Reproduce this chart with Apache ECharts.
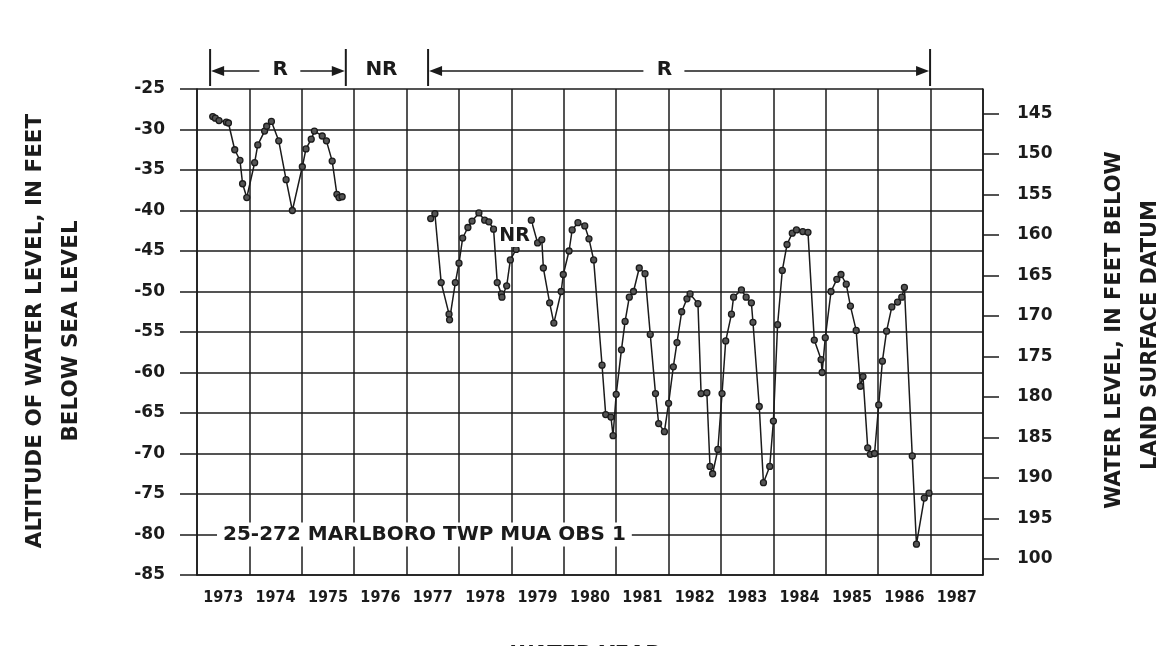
<!DOCTYPE html>
<html>
<head>
<meta charset="utf-8">
<script src="https://cdn.jsdelivr.net/npm/echarts@6/dist/echarts.min.js"></script>
<style>
html,body{margin:0;padding:0;background:#ffffff;}
#c{width:1156px;height:646px;}
</style>
</head>
<body>
<div id="c"></div>
<script>
// ---------- data (water year as decimal, altitude in feet) ----------
const yearLabels = ['1973','1974','1975','1976','1977','1978','1979','1980','1981','1982','1983','1984','1985','1986','1987'];
const altTicks = [-85,-80,-75,-70,-65,-60,-55,-50,-45,-40,-35,-30,-25];
const depthTicks = [145,150,155,160,165,170,175,180,185,190,195,200];
const depthTickLabels = ['145','150','155','160','165','170','175','180','185','190','195','100'];
const landSurfaceDatum = 117; // depth = datum - altitude

const years1 = [1973.30,1973.35,1973.42,1973.56,1973.60,1973.72,1973.82,1973.87,1973.95,1974.10,1974.16,1974.29,1974.33,1974.42,1974.56,1974.70,1974.82,1975.01,1975.08,1975.18,1975.24,1975.39,1975.47,1975.58,1975.67,1975.71,1975.77];
const levels1 = [-28.4,-28.6,-28.9,-29.1,-29.2,-32.5,-33.8,-36.7,-38.4,-34.1,-31.9,-30.2,-29.6,-29.0,-31.4,-36.2,-40.0,-34.6,-32.4,-31.2,-30.2,-30.8,-31.4,-33.9,-38.0,-38.4,-38.3];

const years2 = [1977.46,1977.54,1977.66,1977.81,1977.82,1977.93,1978.00,1978.07,1978.17,1978.25,1978.38,1978.49,1978.57,1978.66,1978.73,1978.81,1978.82,1978.91,1978.98,1979.09];
const levels2 = [-41.0,-40.4,-48.9,-52.8,-53.5,-48.9,-46.5,-43.4,-42.1,-41.3,-40.3,-41.2,-41.4,-42.3,-48.9,-50.3,-50.7,-49.3,-46.1,-44.8];

const years3 = [1979.38,1979.50,1979.58,1979.61,1979.73,1979.81,1979.95,1979.99,1980.10,1980.16,1980.27,1980.40,1980.48,1980.57,1980.73,1980.80,1980.90,1980.94,1981.00,1981.10,1981.17,1981.25,1981.33,1981.44,1981.55,1981.65,1981.75,1981.81,1981.92,1982.00,1982.09,1982.16,1982.25,1982.35,1982.41,1982.56,1982.62,1982.73,1982.79,1982.84,1982.94,1983.02,1983.09,1983.20,1983.24,1983.39,1983.48,1983.58,1983.61,1983.73,1983.81,1983.93,1984.00,1984.08,1984.17,1984.26,1984.36,1984.44,1984.56,1984.66,1984.78,1984.91,1984.93,1984.99,1985.10,1985.21,1985.29,1985.39,1985.47,1985.58,1985.66,1985.71,1985.80,1985.85,1985.93,1986.01,1986.08,1986.16,1986.26,1986.37,1986.45,1986.50,1986.65,1986.73,1986.88,1986.97];
const levels3 = [-41.2,-44.0,-43.6,-47.1,-51.4,-53.9,-50.0,-47.9,-45.0,-42.4,-41.5,-41.9,-43.5,-46.1,-59.1,-65.2,-65.5,-67.8,-62.7,-57.2,-53.7,-50.7,-50.0,-47.1,-47.8,-55.3,-62.6,-66.3,-67.3,-63.8,-59.3,-56.3,-52.5,-50.9,-50.3,-51.5,-62.6,-62.5,-71.6,-72.5,-69.5,-62.6,-56.1,-52.8,-50.7,-49.8,-50.7,-51.4,-53.8,-64.2,-73.6,-71.6,-66.0,-54.1,-47.4,-44.2,-42.8,-42.4,-42.6,-42.7,-56.0,-58.4,-60.0,-55.7,-50.0,-48.5,-47.9,-49.1,-51.8,-54.8,-61.7,-60.5,-69.3,-70.1,-70.0,-64.0,-58.6,-54.9,-51.9,-51.3,-50.7,-49.5,-70.3,-81.2,-75.5,-74.9];

// record periods (R = recorder, NR = no record)
const recordStarts = [1973.25, 1977.41];
const recordEnds   = [1975.84, 1986.99];
const recordLabelAt = [1974.59, 1981.92];
const recordLabels = ['R', 'R'];
const noRecordLabelAt = [1976.52];
const noRecordInPlot = [1979.06, -43.1];
const stationName = '25-272 MARLBORO TWP MUA OBS 1';
const stationAt = [1977.34, -80];

// ---------- chart ----------
const ink = '#1b1b1b';
const boldFont = '"DejaVu Sans", "Liberation Sans", Arial, sans-serif';
const yearLabelPos = yearLabels.map(y => Number(y) + 0.5);

function pairs(xs, ys){ return xs.map((x,i)=>[x, ys[i]]); }

function lineSeries(xs, ys){
  return {
    type:'line',
    data: pairs(xs, ys),
    xAxisIndex:0, yAxisIndex:0,
    symbol:'circle', symbolSize:6,
    showSymbol:true,
    lineStyle:{color:ink, width:1.5},
    itemStyle:{color:'#555', borderColor:ink, borderWidth:1.3},
    emphasis:{disabled:true},
    animation:false,
    z:5
  };
}

const chart = echarts.init(document.getElementById('c'), null, {renderer:'canvas'});

const staticGraphics = [
  {type:'text', x:35, y:331, rotation:Math.PI/2,
   style:{text:'ALTITUDE OF WATER LEVEL, IN FEET', font:'bold 21.5px ' + boldFont, fill:ink, align:'center', verticalAlign:'middle'}},
  {type:'text', x:71, y:331, rotation:Math.PI/2,
   style:{text:'BELOW SEA LEVEL', font:'bold 21.5px ' + boldFont, fill:ink, align:'center', verticalAlign:'middle'}},
  {type:'text', x:1115, y:330, rotation:Math.PI/2,
   style:{text:'WATER LEVEL, IN FEET BELOW', font:'bold 21px ' + boldFont, fill:ink, align:'center', verticalAlign:'middle'}},
  {type:'text', x:1151, y:335, rotation:Math.PI/2,
   style:{text:'LAND SURFACE DATUM', font:'bold 21px ' + boldFont, fill:ink, align:'center', verticalAlign:'middle'}},
  {type:'text', x:586, y:645,
   style:{text:'WATER YEAR', font:'bold 21px ' + boldFont, fill:ink, align:'center', verticalAlign:'top'}}
];

const option = {
  backgroundColor:'#ffffff',
  animation:false,
  grid:{left:197, top:89, width:786, height:486, outerBoundsMode:'none', containLabel:false},
  xAxis:[{
    type:'value', min:1973, max:1988, interval:1,
    axisLine:{show:true, lineStyle:{color:ink, width:1.6}},
    axisTick:{show:false},
    axisLabel:{
      show:true, customValues:yearLabelPos, margin:15,
      formatter:v => yearLabels[Math.floor(v) - 1973] || '',
      color:ink, fontSize:16, fontWeight:'bold',
      fontFamily:'"DejaVu Sans Condensed", "Liberation Sans Narrow", "DejaVu Sans", sans-serif'
    },
    splitLine:{show:true, lineStyle:{color:ink, width:1.5}}
  }],
  yAxis:[{
    type:'value', min:-85, max:-25, interval:5, position:'left',
    axisLine:{show:true, lineStyle:{color:ink, width:1.6}},
    axisTick:{show:true, inside:false, length:17, lineStyle:{color:ink, width:1.5}},
    axisLabel:{show:true, margin:32, color:ink, fontSize:17, fontWeight:'bold', fontFamily:boldFont,
      formatter:v => String(v)},
    splitLine:{show:true, lineStyle:{color:ink, width:1.5}}
  },{
    type:'value', min:landSurfaceDatum + 25, max:landSurfaceDatum + 85, inverse:true, position:'right',
    axisLine:{show:true, onZero:false, lineStyle:{color:ink, width:1.6}},
    axisTick:{show:true, inside:false, length:16, customValues:depthTicks, lineStyle:{color:ink, width:1.5}},
    axisLabel:{show:true, margin:34, customValues:depthTicks, color:ink, fontSize:17, fontWeight:'bold', fontFamily:boldFont,
      formatter:v => { const i = depthTicks.indexOf(Math.round(v)); return i >= 0 ? depthTickLabels[i] : ''; }},
    splitLine:{show:false}
  }],
  series:[
    lineSeries(years1, levels1),
    lineSeries(years2, levels2),
    lineSeries(years3, levels3)
  ],
  graphic: staticGraphics
};

chart.setOption(option);

// ---------- annotations positioned through the axes ----------
function toPx(x, y){ return chart.convertToPixel({xAxisIndex:0, yAxisIndex:0}, [x, y]); }
const dyn = [];
const arrowY = 71;
recordStarts.forEach((s, i) => {
  const x0 = toPx(s, -25)[0], x1 = toPx(recordEnds[i], -25)[0], xl = toPx(recordLabelAt[i], -25)[0];
  dyn.push({type:'line', shape:{x1:x0, y1:49, x2:x0, y2:86}, style:{stroke:ink, lineWidth:2}});
  dyn.push({type:'line', shape:{x1:x1, y1:49, x2:x1, y2:86}, style:{stroke:ink, lineWidth:2}});
  dyn.push({type:'line', shape:{x1:x0 + 4, y1:arrowY, x2:xl - 21, y2:arrowY}, style:{stroke:ink, lineWidth:1.6}});
  dyn.push({type:'line', shape:{x1:xl + 20, y1:arrowY, x2:x1 - 4, y2:arrowY}, style:{stroke:ink, lineWidth:1.6}});
  dyn.push({type:'polygon', shape:{points:[[x0 + 1, arrowY], [x0 + 14, arrowY - 5], [x0 + 14, arrowY + 5]]}, style:{fill:ink}});
  dyn.push({type:'polygon', shape:{points:[[x1 - 1, arrowY], [x1 - 14, arrowY - 5], [x1 - 14, arrowY + 5]]}, style:{fill:ink}});
  dyn.push({type:'text', x:xl, y:arrowY - 1, style:{text:recordLabels[i], font:'bold 20px ' + boldFont, fill:ink, align:'center', verticalAlign:'middle'}});
});
noRecordLabelAt.forEach(x => {
  const p = toPx(x, -25);
  dyn.push({type:'text', x:p[0], y:arrowY - 1, style:{text:'NR', font:'bold 20px ' + boldFont, fill:ink, align:'center', verticalAlign:'middle'}});
});
(function(){
  const p = toPx(noRecordInPlot[0], noRecordInPlot[1]);
  dyn.push({type:'text', x:p[0], y:p[1], z:20, style:{text:'NR', font:'bold 19px ' + boldFont, fill:ink, align:'center', verticalAlign:'middle', backgroundColor:'#ffffff', padding:[2,2]}});
  const q = toPx(stationAt[0], stationAt[1]);
  dyn.push({type:'text', x:q[0], y:q[1], z:20, style:{text:stationName, font:'bold 20px ' + boldFont, fill:ink, align:'center', verticalAlign:'middle', backgroundColor:'#ffffff', padding:[2,6]}});
})();

chart.setOption({graphic: staticGraphics.concat(dyn)}, {replaceMerge:['graphic']});
</script>
</body>
</html>
